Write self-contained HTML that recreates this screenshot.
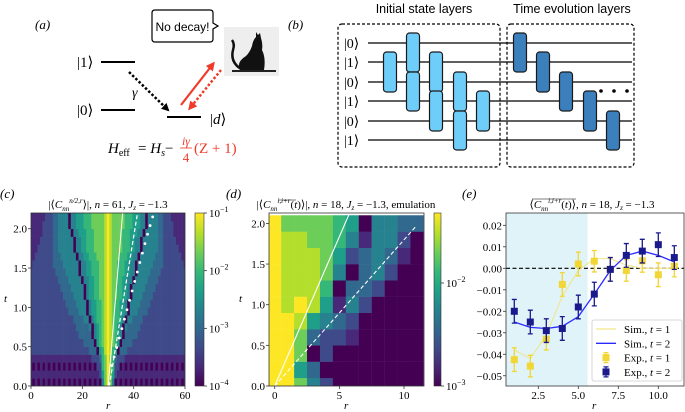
<!DOCTYPE html>
<html><head><meta charset="utf-8"><style>
body{margin:0;background:#fff}
svg{display:block;font-family:"Liberation Serif",serif}
</style></head><body>
<svg id="fig" width="685" height="412" viewBox="0 0 685 412" xmlns="http://www.w3.org/2000/svg">
<defs>
<marker id="ahb" markerWidth="8" markerHeight="8" refX="6" refY="4" orient="auto" markerUnits="userSpaceOnUse"><path d="M0,0 L8,4 L0,8 z" fill="#000"/></marker>
<marker id="ahr" markerWidth="9" markerHeight="9" refX="6" refY="4.5" orient="auto" markerUnits="userSpaceOnUse"><path d="M0,0 L9,4.5 L0,9 z" fill="#f03a2a"/></marker>
<clipPath id="clipc"><rect x="31" y="213" width="154" height="173"/></clipPath>
<clipPath id="clipd"><rect x="269" y="213" width="155" height="173"/></clipPath>
<linearGradient id="vir" x1="0" y1="1" x2="0" y2="0">
<stop offset="0" stop-color="#440154"/><stop offset="0.11" stop-color="#482878"/><stop offset="0.22" stop-color="#3e4a89"/><stop offset="0.33" stop-color="#31688e"/><stop offset="0.44" stop-color="#26828e"/><stop offset="0.55" stop-color="#1f9e89"/><stop offset="0.66" stop-color="#35b779"/><stop offset="0.77" stop-color="#6dcd59"/><stop offset="0.88" stop-color="#b4de2c"/><stop offset="1" stop-color="#fde725"/>
</linearGradient>
</defs>

<!-- Panel a -->
<g>
<text x="35" y="29" font-size="13" font-style="italic">(a)</text>
<g>
<path d="M155,10 H210 Q213,10 213,13 V23 L218,26 L213,29 V39 Q213,42 210,42 H155 Q152,42 152,39 V13 Q152,10 155,10 Z" fill="#fff" stroke="#000" stroke-width="1.2"/>
<text x="182.5" y="31" font-size="12" text-anchor="middle" font-family="Liberation Sans, sans-serif">No decay!</text>
</g>
<g>
<rect x="224" y="27" width="55" height="49" fill="#eeeeee"/>
<path d="M232,70 H276 V72 H232 Z" fill="#222"/>
<path d="M240,70 Q236,62 246,56 Q250,52 252,46 Q253,40 256,37 L256,32 L258,35 L260,33 L261,38 Q263,44 262,50 Q266,58 264,70 Z" fill="#111"/>
<path d="M241,69 Q230,62 233,50 Q235,44 232,40" fill="none" stroke="#111" stroke-width="2.5"/>
</g>
<text x="77" y="67" font-size="15">|1⟩</text>
<line x1="101" y1="62" x2="135" y2="62" stroke="#000" stroke-width="2"/>
<text x="77" y="115" font-size="15">|0⟩</text>
<line x1="101" y1="110" x2="135" y2="110" stroke="#000" stroke-width="2"/>
<line x1="167" y1="117" x2="201" y2="117" stroke="#000" stroke-width="2"/>
<text x="210" y="124" font-size="15">|<tspan font-style="italic">d</tspan>⟩</text>
<line x1="129" y1="72" x2="168" y2="110" stroke="#000" stroke-width="2.5" stroke-dasharray="2.5,2" marker-end="url(#ahb)"/>
<text x="132" y="97" font-size="14" font-style="italic">γ</text>
<line x1="181" y1="105" x2="213" y2="64" stroke="#f03a2a" stroke-width="2.2" marker-end="url(#ahr)"/>
<line x1="221" y1="70" x2="190" y2="108" stroke="#f03a2a" stroke-width="2.5" stroke-dasharray="2.5,2" marker-end="url(#ahr)"/>
<g font-size="15">
<text x="108" y="153" font-style="italic">H<tspan font-size="10" font-style="normal" dy="3">eff</tspan></text>
<text x="138" y="153">= <tspan font-style="italic">H<tspan font-size="10" dy="3">s</tspan></tspan><tspan dy="-3">−</tspan></text>
<text x="186" y="145" font-size="12" fill="#f03a2a" text-anchor="middle" font-style="italic">iγ</text>
<line x1="180" y1="148" x2="192" y2="148" stroke="#f03a2a" stroke-width="0.8"/>
<text x="186" y="162" font-size="13" fill="#f03a2a" text-anchor="middle">4</text>
<text x="194" y="153" fill="#f03a2a">(Z + 1)</text>
</g>
</g>

<!-- Panel b -->
<g id="pb">
<text x="288" y="29" font-size="13" font-style="italic">(b)</text>
<text x="424" y="13" font-size="12.5" text-anchor="middle" font-family="Liberation Sans, sans-serif">Initial state layers</text>
<text x="572" y="13" font-size="12.5" text-anchor="middle" font-family="Liberation Sans, sans-serif">Time evolution layers</text>
<rect x="338" y="24" width="162" height="143" rx="4" fill="none" stroke="#000" stroke-width="1.2" stroke-dasharray="3,2"/>
<rect x="507" y="24" width="127" height="143" rx="4" fill="none" stroke="#000" stroke-width="1.2" stroke-dasharray="3,2"/>
</g>

<!-- Panel c -->
<g id="pc">
<text x="0" y="198" font-size="13" font-style="italic">(c)</text>
<text x="108" y="208" font-size="11" text-anchor="middle">|⟨<tspan font-style="italic">C</tspan><tspan font-size="7" dy="3" font-style="italic">nn</tspan><tspan font-size="7" dy="-8" font-style="italic">n/2,r</tspan><tspan dy="5">⟩|, </tspan><tspan font-style="italic">n</tspan> = 61, <tspan font-style="italic">J</tspan><tspan font-size="7" dy="2" font-style="italic">z</tspan><tspan dy="-2"> = −1.3</tspan></text>
<g id="pcHeat" clip-path="url(#clipc)"></g>
<rect x="31" y="213" width="154" height="173" fill="none" stroke="#333" stroke-width="0.8"/>
<rect x="195" y="213" width="9" height="173" fill="url(#vir)" stroke="#333" stroke-width="0.6"/>
<text x="4" y="302" font-size="11" font-style="italic">t</text>
<text x="106" y="409" font-size="11" font-style="italic">r</text>
</g>

<!-- Panel d -->
<g id="pd">
<text x="226" y="198" font-size="13" font-style="italic">(d)</text>
<text x="346" y="208" font-size="11" text-anchor="middle">|⟨<tspan font-style="italic">C</tspan><tspan font-size="7" dy="3" font-style="italic">nn</tspan><tspan font-size="7" dy="-8" font-style="italic">i,i+r</tspan><tspan dy="5">(</tspan><tspan font-style="italic">t</tspan>)⟩|, <tspan font-style="italic">n</tspan> = 18, <tspan font-style="italic">J</tspan><tspan font-size="7" dy="2" font-style="italic">z</tspan><tspan dy="-2"> = −1.3, emulation</tspan></text>
<line x1="278" y1="200" x2="296" y2="200" stroke="#000" stroke-width="0.6"/>
<g id="pdHeat" clip-path="url(#clipd)"></g>
<rect x="269" y="213" width="155" height="173" fill="none" stroke="#333" stroke-width="0.8"/>
<rect x="434" y="213" width="7" height="173" fill="url(#vir)" stroke="#333" stroke-width="0.6"/>
<text x="239" y="302" font-size="11" font-style="italic">t</text>
<text x="344" y="409" font-size="11" font-style="italic">r</text>
</g>

<!-- Panel e -->
<g id="pe">
<text x="462" y="198" font-size="13" font-style="italic">(e)</text>
<text x="592" y="208" font-size="11" text-anchor="middle">⟨<tspan font-style="italic">C</tspan><tspan font-size="7" dy="3" font-style="italic">nn</tspan><tspan font-size="7" dy="-8" font-style="italic">i,i+r</tspan><tspan dy="5">(</tspan><tspan font-style="italic">t</tspan>)⟩, <tspan font-style="italic">n</tspan> = 18, <tspan font-style="italic">J</tspan><tspan font-size="7" dy="2" font-style="italic">z</tspan><tspan dy="-2"> = −1.3</tspan></text>
<line x1="532" y1="199" x2="576" y2="199" stroke="#000" stroke-width="0.6"/>
<g id="peData"></g>
<rect x="506" y="213" width="178" height="173" fill="none" stroke="#333" stroke-width="0.8"/>
<text x="592" y="409" font-size="11" font-style="italic">r</text>
</g>
</svg>
<script>
// ---------- data ----------
const cRows = [
"1010101010101010101010101010479",
"1111111111111111111111111112579",
"1010101010101010101010101022679",
"1111111111111111111111112223679",
"2222222222222222222222233305689",
"2222222222222222222223333056789",
"2222222222222222222333330456789",
"2222222222222222223333340456789",
"2222222222222222233334404566789",
"2222222222222223333444045566789",
"2222222222222233334444045566789",
"2222222222222333344440455667789",
"2222222222223333444440455667789",
"2222222222233334444404455667789",
"2222222222333344444044556667789",
"1222222223333444444044556667789",
"1122222223334444440445566677789",
"1112222223344444404455666777789",
"1111222223344444404455666777789",
"1111122223344444044555666777789",
"1111122223344440445556667777789",
"1111112223344440445556667777789"
];
const cXTicks = [0, 20, 40, 60];
const cYTicks = [0.0, 0.5, 1.0, 1.5, 2.0];
const cCbLabels = ["−1", "−2", "−3", "−4"];
const cDotR = [31.4, 32.4, 33.4, 34.4, 35.4, 36.4, 37.4, 38.4, 39.4, 40.4, 41.4, 42.4, 43.4, 44.4, 45.4, 46.4, 47.4];
const cDotT = [0.26, 0.37, 0.49, 0.61, 0.73, 0.85, 0.97, 1.09, 1.21, 1.33, 1.45, 1.57, 1.69, 1.81, 1.93, 2.04, 2.15];
const cSolid = [[30.1, 0], [35.7, 2.2]];
const cDashed = [[30.5, 0], [41.5, 2.2]];

const dRows = [
"997420000000",
"995300000000",
"997020000000",
"997322100000",
"998543200000",
"989851420000",
"988860332000",
"988874034200",
"988875234310",
"988776414420",
"977776504433"
];
const dXTicks = [0, 5, 10];
const dYTicks = [0.0, 0.5, 1.0, 1.5, 2.0];
const dSolid = [[0, 0], [5.8, 2.13]];
const dDashed = [[0, 0], [10.9, 1.96]];

const eR = [1, 2, 3, 4, 5, 6, 7, 8, 9, 10, 11];
const eExp1 = [-0.0425, -0.0455, -0.033, -0.0075, 0.002, 0.0033, -0.0005, -0.001, 0.0035, -0.003, 0.001];
const eErr1 = [0.0055, 0.005, 0.005, 0.0055, 0.0055, 0.005, 0.0055, 0.005, 0.0053, 0.0055, 0.005];
const eExp2 = [-0.020, -0.025, -0.029, -0.028, -0.018, -0.012, -0.0005, 0.006, 0.008, 0.011, 0.005];
const eErr2 = [0.0055, 0.0055, 0.0055, 0.0055, 0.0055, 0.0055, 0.0055, 0.0055, 0.0055, 0.0055, 0.0055];
const eSim1 = [-0.038, -0.042, -0.031, -0.013, -0.001, 0.0045, 0.0045, 0.0015, 0.0, 0.0, 0.0];
const eSim2 = [-0.025, -0.0275, -0.028, -0.027, -0.0225, -0.012, -0.001, 0.006, 0.008, 0.006, 0.003];
const eXTicks = [2.5, 5.0, 7.5, 10.0];
const eYTicks = [0.02, 0.01, 0.00, -0.01, -0.02, -0.03, -0.04, -0.05];
const eShadeEnd = 5.58;

// ---------- helpers ----------
const NS = "http://www.w3.org/2000/svg";
function mk(parent, tag, attrs) {
  const e = document.createElementNS(NS, tag);
  for (const k in attrs) e.setAttribute(k, attrs[k]);
  parent.appendChild(e);
  return e;
}
const VIR = [[68,1,84],[72,40,120],[62,74,137],[49,104,142],[38,130,142],[31,158,137],[53,183,121],[109,205,89],[180,222,44],[253,231,37]];
function viridis(f) {
  f = Math.max(0, Math.min(1, f));
  const p = f * (VIR.length - 1), i = Math.min(VIR.length - 2, Math.floor(p)), u = p - i;
  const c = VIR[i].map((v, j) => Math.round(v + (VIR[i + 1][j] - v) * u));
  return "rgb(" + c.join(",") + ")";
}

// ---------- panel b ----------
const pb = document.getElementById("pb");
const wireY = [43, 62, 82, 101, 121, 140];
const kets = ["|0⟩", "|1⟩", "|0⟩", "|1⟩", "|0⟩", "|1⟩"];
wireY.forEach((y, i) => {
  const w = mk(pb, "line", {x1: 368, y1: y, x2: 632, y2: y, stroke: "#000", "stroke-width": 1.2});
  
  
  const k = mk(pb, "text", {x: 344, y: y + 5, "font-size": 14});
  k.textContent = kets[i];
  
  
});
const lightGates = [[390, 1], [413, 0], [413, 2], [436, 1], [436, 3], [460, 2], [460, 4], [483, 3]];
const darkGates = [[520, 0], [543, 1], [566, 2], [590, 3], [613, 4]];
function gate(cx, w0, fill, name) {
  const g = mk(pb, "rect", {x: cx - 6.5, y: wireY[w0] - 10, width: 13, height: wireY[w0 + 1] - wireY[w0] + 20, rx: 3, fill: fill, stroke: "#1a1a1a", "stroke-width": 1.2});
  
  
}
lightGates.forEach(gd => gate(gd[0], gd[1], "#6fcdf9", "initial-state-gate"));
darkGates.forEach(gd => gate(gd[0], gd[1], "#3b7fbd", "time-evolution-gate"));
[601, 614, 627].forEach(x => {
  const d = mk(pb, "circle", {cx: x, cy: 91, r: 1.8, fill: "#000"});
  
  
});

// ---------- panel c ----------
const pc = document.getElementById("pc");
const cHeat = document.getElementById("pcHeat");
const cX = r => 31 + r * (154 / 60);
const cY = t => 386 - t * (173 / 2.2);
cRows.forEach((row, k) => {
  for (let r = 0; r <= 60; r++) {
    const j = Math.abs(r - 30);
    const lv = parseInt(row[30 - j], 10);
    const c = mk(cHeat, "rect", {x: cX(r - 0.5), y: cY(0.1 * k + 0.1), width: cX(r + 0.5) - cX(r - 0.5) + 0.3, height: cY(0.1 * k) - cY(0.1 * k + 0.1) + 0.3, fill: viridis(lv / 9)});
    
    
  }
});
let ln = mk(cHeat, "line", {x1: cX(cSolid[0][0]), y1: cY(cSolid[0][1]), x2: cX(cSolid[1][0]), y2: cY(cSolid[1][1]), stroke: "#fff", "stroke-width": 1});


ln = mk(cHeat, "line", {x1: cX(cDashed[0][0]), y1: cY(cDashed[0][1]), x2: cX(cDashed[1][0]), y2: cY(cDashed[1][1]), stroke: "#fff", "stroke-width": 1.2, "stroke-dasharray": "4,2.5"});


cDotR.forEach((r, i) => {
  const d = mk(cHeat, "circle", {cx: cX(r), cy: cY(cDotT[i]), r: 1.4, fill: "#fff"});
  
  
});
cXTicks.forEach(v => {
  const t = mk(pc, "line", {x1: cX(v), y1: 386, x2: cX(v), y2: 389, stroke: "#333", "stroke-width": 0.8});
  
  
  const l = mk(pc, "text", {x: cX(v), y: 399, "font-size": 11, "text-anchor": "middle"});
  l.textContent = v;
  
  
});
cYTicks.forEach(v => {
  const t = mk(pc, "line", {x1: 28, y1: cY(v), x2: 31, y2: cY(v), stroke: "#333", "stroke-width": 0.8});
  
  
  const l = mk(pc, "text", {x: 27, y: cY(v) + 4, "font-size": 11, "text-anchor": "end"});
  l.textContent = v.toFixed(1);
  
  
});
cCbLabels.forEach((s, i) => {
  const y = 213 + i * (173 / 3);
  const t = mk(pc, "line", {x1: 204, y1: y, x2: 207, y2: y, stroke: "#333", "stroke-width": 0.8});
  
  
  const l = mk(pc, "text", {x: 209, y: y + 4, "font-size": 11});
  l.innerHTML = '10<tspan font-size="8" dy="-5">' + s + '</tspan>';
  
  
});

// ---------- panel d ----------
const pd = document.getElementById("pd");
const dHeat = document.getElementById("pdHeat");
const dX = r => 274.7 + r * 12.93;
const dY = t => 386 - t * 81.3;
dRows.forEach((row, k) => {
  const t = 0.2 * k;
  for (let r = 0; r < row.length; r++) {
    const lv = parseInt(row[r], 10);
    const c = mk(dHeat, "rect", {x: dX(r - 0.5), y: dY(t + 0.1), width: 12.93 + 0.2, height: dY(t - 0.1) - dY(t + 0.1) + 0.2, fill: viridis(lv / 9)});
    
    
  }
});
ln = mk(dHeat, "line", {x1: dX(dSolid[0][0]), y1: dY(dSolid[0][1]), x2: dX(dSolid[1][0]), y2: dY(dSolid[1][1]), stroke: "#fff", "stroke-width": 1.1});


ln = mk(dHeat, "line", {x1: dX(dDashed[0][0]), y1: dY(dDashed[0][1]), x2: dX(dDashed[1][0]), y2: dY(dDashed[1][1]), stroke: "#fff", "stroke-width": 1.1, "stroke-dasharray": "4,2.5"});


dXTicks.forEach(v => {
  const t = mk(pd, "line", {x1: dX(v), y1: 386, x2: dX(v), y2: 389, stroke: "#333", "stroke-width": 0.8});
  
  
  const l = mk(pd, "text", {x: dX(v), y: 399, "font-size": 11, "text-anchor": "middle"});
  l.textContent = v;
  
  
});
dYTicks.forEach(v => {
  const t = mk(pd, "line", {x1: 266, y1: dY(v), x2: 269, y2: dY(v), stroke: "#333", "stroke-width": 0.8});
  
  
  const l = mk(pd, "text", {x: 265, y: dY(v) + 4, "font-size": 11, "text-anchor": "end"});
  l.textContent = v.toFixed(1);
  
  
});
[["−2", 283], ["−3", 386]].forEach(p => {
  const t = mk(pd, "line", {x1: 441, y1: p[1], x2: 444, y2: p[1], stroke: "#333", "stroke-width": 0.8});
  
  
  const l = mk(pd, "text", {x: 446, y: p[1] + 4, "font-size": 11});
  l.innerHTML = '10<tspan font-size="8" dy="-5">' + p[0] + '</tspan>';
  
  
});

// ---------- panel e ----------
const pe = document.getElementById("pe");
const eg = document.getElementById("peData");
const eX = r => 498.3 + 16 * r;
const eY = v => 268.3 - v * 2149;
const sh = mk(eg, "rect", {x: 506, y: 213, width: eX(eShadeEnd) - 506, height: 173, fill: "#e0f3f8"});


const zl = mk(eg, "line", {x1: 506, y1: eY(0), x2: 684, y2: eY(0), stroke: "#000", "stroke-width": 1.1, "stroke-dasharray": "4,2.5"});


const s1 = mk(eg, "polyline", {points: eR.map((r, i) => eX(r) + "," + eY(eSim1[i])).join(" "), fill: "none", stroke: "#f0e68c", "stroke-width": 1.1});


const s2 = mk(eg, "polyline", {points: eR.map((r, i) => eX(r) + "," + eY(eSim2[i])).join(" "), fill: "none", stroke: "#2b2bff", "stroke-width": 1.3});


function errPts(vals, errs, col, name) {
  eR.forEach((r, i) => {
    const x = eX(r), y0 = eY(vals[i] + errs[i]), y1 = eY(vals[i] - errs[i]);
    const e = mk(eg, "path", {d: "M" + x + "," + y0 + "V" + y1 + "M" + (x - 2.5) + "," + y0 + "H" + (x + 2.5) + "M" + (x - 2.5) + "," + y1 + "H" + (x + 2.5), stroke: col, "stroke-width": 1.3, fill: "none"});
    
    
    const m = mk(eg, "rect", {x: x - 3.5, y: eY(vals[i]) - 3.5, width: 7, height: 7, fill: col});
    
    
  });
}
errPts(eExp1, eErr1, "#f2d635", "exp-t1");
errPts(eExp2, eErr2, "#1a1a8c", "exp-t2");
eXTicks.forEach(v => {
  const t = mk(pe, "line", {x1: eX(v), y1: 386, x2: eX(v), y2: 389, stroke: "#333", "stroke-width": 0.8});
  
  
  const l = mk(pe, "text", {x: eX(v), y: 399, "font-size": 11, "text-anchor": "middle"});
  l.textContent = v.toFixed(1);
  
  
});
eYTicks.forEach(v => {
  const t = mk(pe, "line", {x1: 503, y1: eY(v), x2: 506, y2: eY(v), stroke: "#333", "stroke-width": 0.8});
  
  
  const l = mk(pe, "text", {x: 502, y: eY(v) + 4, "font-size": 11, "text-anchor": "end"});
  l.textContent = (v < 0 ? "−" : "") + Math.abs(v).toFixed(2);
  
  
});
const lg = mk(pe, "g", {});


mk(lg, "rect", {x: 592, y: 320, width: 90, height: 61, rx: 2, fill: "#fff", "fill-opacity": 0.85, stroke: "#ccc", "stroke-width": 0.8});
const legItems = [["line", "#f0e68c", "Sim., "], ["line", "#2b2bff", "Sim., "], ["mark", "#f2d635", "Exp., "], ["mark", "#1a1a8c", "Exp., "]];
const legT = ["1", "2", "1", "2"];
legItems.forEach((it, i) => {
  const y = 329 + i * 14.3;
  const g = mk(lg, "g", {});
  
  
  if (it[0] === "line") mk(g, "line", {x1: 596, y1: y, x2: 616, y2: y, stroke: it[1], "stroke-width": 1.3});
  else {
    mk(g, "path", {d: "M606," + (y - 5) + "V" + (y + 5) + "M603.5," + (y - 5) + "H608.5M603.5," + (y + 5) + "H608.5", stroke: it[1], "stroke-width": 1.2, fill: "none"});
    mk(g, "rect", {x: 602.5, y: y - 3.5, width: 7, height: 7, fill: it[1]});
  }
  const tx = mk(g, "text", {x: 624, y: y + 4, "font-size": 11});
  tx.innerHTML = it[2] + '<tspan font-style="italic">t</tspan> = ' + legT[i];
});
</script>
</body></html>
